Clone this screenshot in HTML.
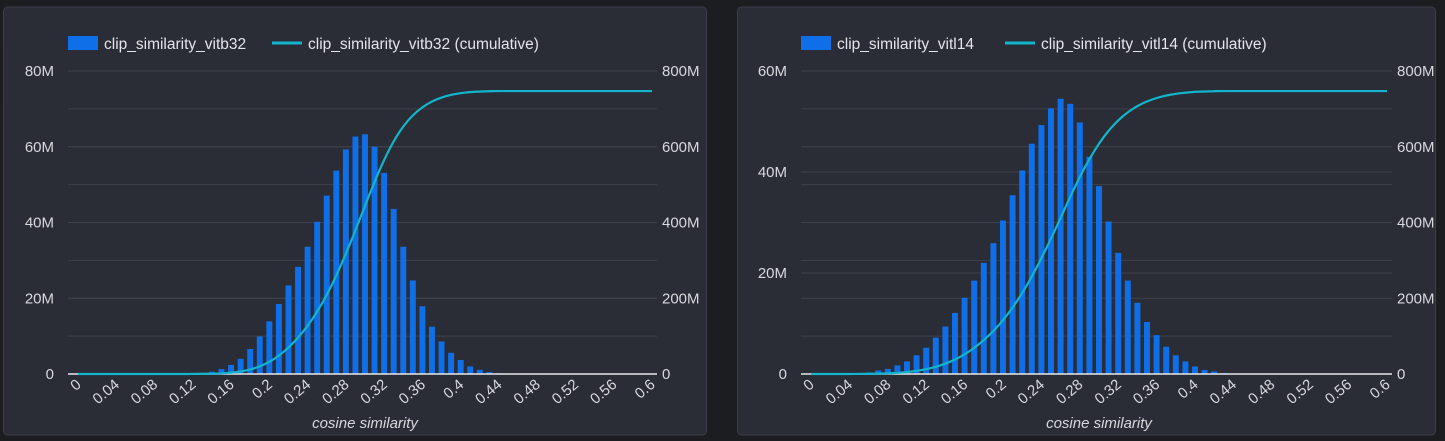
<!DOCTYPE html>
<html><head><meta charset="utf-8"><style>
html,body{margin:0;padding:0;background:#1c1d21;}
svg{display:block;font-family:"Liberation Sans",sans-serif;}
</style></head><body>
<svg id="s" width="1445" height="441" xmlns="http://www.w3.org/2000/svg"></svg>
<script>
const NS="http://www.w3.org/2000/svg";
const xTicks=["0","0.04","0.08","0.12","0.16","0.2","0.24","0.28","0.32","0.36","0.4","0.44","0.48","0.52","0.56","0.6"];
const rightTicks=["0","200M","400M","600M","800M"];
// chart A: vitb32, bins from 0.11 step 0.01 (values in M)
const binsAStart=0.11;
const valuesA=[0.1,0.2,0.3,0.6,1.3,2.4,4,6.6,9.9,13.9,18.5,23.4,28.3,33.6,40.2,47.1,53.7,59.3,62.7,63.3,60,53.1,43.6,33.6,24.7,17.9,12.5,8.6,5.6,3.7,2,1.1,0.5,0.2];
const leftTicksA=["0","20M","40M","60M","80M"];
const cumTotalA=747;
// chart B: vitl14, bins from 0.03
const binsBStart=0.03;
const valuesB=[0.05,0.1,0.2,0.3,0.7,1,1.7,2.5,3.7,5.2,7.2,9.4,12.1,15.1,18.5,22,25.9,30.4,35.4,40.3,45.6,49.3,52.6,54.5,53.5,49.8,43,37.2,30.2,24,18.5,14.1,10.3,7.7,5.4,3.7,2.5,1.5,0.8,0.5,0.2];
const leftTicksB=["0","20M","40M","60M"];
const cumTotalB=747;

const svg=document.getElementById('s');
function el(tag,attrs,parent){const e=document.createElementNS(NS,tag);for(const k in attrs)e.setAttribute(k,attrs[k]);(parent||svg).appendChild(e);return e;}

function chart(cfg){
  const g=el('g',{});
  
  
  const p=el('rect',{x:cfg.px,y:7,width:cfg.pw,height:428,rx:4,fill:'#2a2c36',stroke:'#3b3d48','stroke-width':1},g);
  
  
  const x0=cfg.x0,x1=cfg.x1,yTop=71,yBot=374;
  const xs=v=>x0+(v/0.6)*(x1-x0);
  const yl=v=>yBot-(v/cfg.lmax)*(yBot-yTop);
  const yr=v=>yBot-(v/800)*(yBot-yTop);
  for(let i=1;i<=8;i++){const y=yr(i*100);const l=el('line',{x1:cfg.gl,x2:cfg.gr,y1:y,y2:y,stroke:'#3e404b','stroke-width':1},g);}
  for(let i=1;i<cfg.lt.length;i++){const y=yl(i*cfg.lmax/(cfg.lt.length-1));const l=el('line',{x1:cfg.gl,x2:cfg.gr,y1:y,y2:y,stroke:'#3e404b','stroke-width':1},g);}
  cfg.lt.forEach((t,i)=>{const y=yl(i*cfg.lmax/(cfg.lt.length-1));const tx=el('text',{x:cfg.gl-14,y:y+5,'text-anchor':'end','font-size':15,fill:'#d8d9de'},g);tx.textContent=t;});
  rightTicks.forEach((t,i)=>{const y=yr(i*200);const tx=el('text',{x:cfg.gr+5,y:y+5,'font-size':15,fill:'#d8d9de'},g);tx.textContent=t;});
  const bw=(x1-x0)/60*0.62;
  cfg.vals.forEach((v,i)=>{const c=cfg.start+i*0.01;const y=yl(v);const r=el('rect',{x:xs(c)-bw/2,y:y,width:bw,height:yBot-y,fill:'#0f6fe8'},g);});
  const bl=el('line',{x1:cfg.gl,x2:cfg.gr,y1:yBot,y2:yBot,stroke:'#e8e8e8','stroke-width':1.5},g);
  let sum=cfg.vals.reduce((a,b)=>a+b,0);
  const k=cfg.total/sum;
  let pts=[[0,0]];let cum=0;
  pts.push([cfg.start-0.005,0]);
  cfg.vals.forEach((v,i)=>{cum+=v*k;pts.push([cfg.start+i*0.01+0.005,cum]);});
  pts.push([0.6,cum]);
  const P=pts.map(q=>[xs(q[0]),yr(q[1])]);
  let d='M'+P[0][0]+','+P[0][1];
  for(let i=1;i<P.length;i++){const a=P[Math.max(0,i-2)],b=P[i-1],c=P[i],e=P[Math.min(P.length-1,i+1)];
    const c1x=b[0]+(c[0]-a[0])/6,c1y=b[1]+(c[1]-a[1])/6,c2x=c[0]-(e[0]-b[0])/6,c2y=c[1]-(e[1]-b[1])/6;
    d+=` C${c1x},${Math.min(yBot,c1y)} ${c2x},${Math.min(yBot,c2y)} ${c[0]},${c[1]}`;}
  const ln=el('path',{d:d,fill:'none',stroke:'#12b5cb','stroke-width':2.2},g);
  xTicks.forEach(t=>{const x=xs(parseFloat(t));const tx=el('text',{x:x+4,y:386,'text-anchor':'end','font-size':15,fill:'#d8d9de',transform:`rotate(-40 ${x+4} 386)`},g);tx.textContent=t;});
  const at=el('text',{x:(x0+x1)/2,y:428,'text-anchor':'middle','font-size':15,'font-style':'italic',fill:'#d8d9de'},g);at.textContent='cosine similarity';
  const lg=el('g',{},g);
  const sw=el('rect',{x:cfg.gl,y:36,width:30,height:14,fill:'#0f6fe8'},lg);
  const t1=el('text',{x:cfg.gl+36,y:49,'font-size':15.5,fill:'#e4e5ea'},lg);t1.textContent=cfg.series;
  const lx=cfg.gl+204;
  const ll=el('line',{x1:lx,x2:lx+30,y1:43,y2:43,stroke:'#12b5cb','stroke-width':3},lg);
  const t2=el('text',{x:lx+36,y:49,'font-size':15.5,fill:'#e4e5ea'},lg);t2.textContent=cfg.series+' (cumulative)';
}
chart({name:'chart-vitb32',px:3.5,pw:703,x0:78,x1:652,gl:68,gr:657,lmax:80,lt:leftTicksA,vals:valuesA,start:binsAStart,total:cumTotalA,series:'clip_similarity_vitb32'});
chart({name:'chart-vitl14',px:737.5,pw:698,x0:811,x1:1387,gl:801,gr:1392,lmax:60,lt:leftTicksB,vals:valuesB,start:binsBStart,total:cumTotalB,series:'clip_similarity_vitl14'});
</script>
</body></html>
